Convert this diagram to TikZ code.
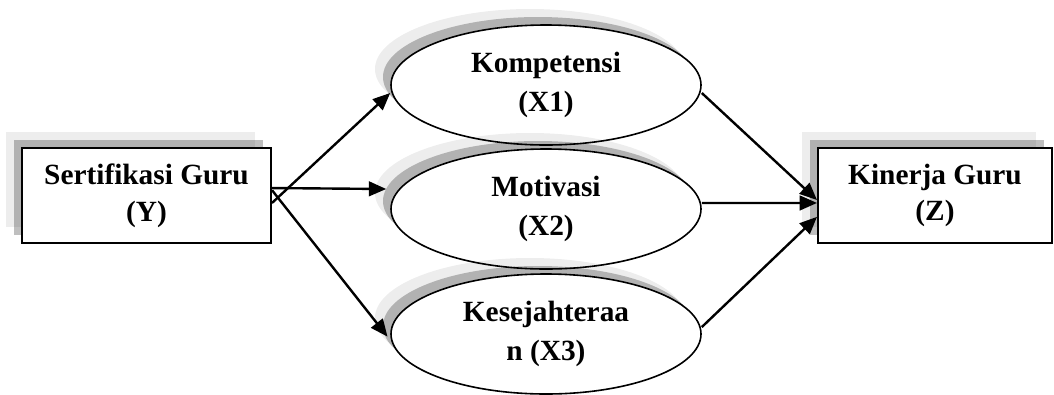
\documentclass[tikz,border=0pt]{standalone}
\usepackage{fontspec}
\setmainfont{Liberation Serif}
\usetikzlibrary{%
  shapes.geometric,
  shadows,
  arrows.meta,
}

\begin{document}
\begin{tikzpicture}[
    x=0.75pt, y=-0.75pt,
    every text node part/.style={align=center},
    every node/.style={font=\bfseries\fontsize{22}{27.5}\selectfont},
    % the grey shadows up and to the left
    greyshadow/.style={
      general shadow={fill=black, fill opacity=0.07,
        shadow xshift=-12pt, shadow yshift=12pt},
      general shadow={fill=black, fill opacity=0.25,
        shadow xshift=-6pt, shadow yshift=6pt},
    },
    rectbox/.style={
      % The shape:
      rectangle,
      % The size:
      minimum width=186.75pt,
      minimum height=71.25pt,
      % The border:
      draw=black, line width=1.5pt,
      fill=white,
      greyshadow,
    },
    oval/.style={
      ellipse,
      inner sep=0pt,
      minimum width=232.5pt,
      minimum height=90pt,
      draw=black, line width=1.2pt,
      fill=white,
      greyshadow,
    },
    link/.style={
      -{Triangle[length=13pt,width=11pt]},
      line width=1.8pt,
    }]

    \useasboundingbox (0,0) rectangle (1054,394);

    \node[rectbox] (sertifikasi) at (146.5,195.5) {Sertifikasi Guru \\ (Y)};
    \node[oval] (kompetensi) at (546,85) {Kompetensi \\[2pt] (X1)};
    \node[oval] (motivasi) at (546,209) {Motivasi \\[2pt] (X2)};
    \node[oval] (kesejahteraan) at (546,334) {Kesejahteraa \\[2pt] n (X3)};
    \node[rectbox, minimum width=175.5pt] (kinerja) at (935,195.5) {Kinerja Guru \\ (Z)};

    \draw[link] ([yshift=-5.6pt]sertifikasi.east) -- ([yshift=-6pt]kompetensi.west);
    \draw[link] ([yshift=5.6pt]sertifikasi.east) -- ([xshift=-3pt,yshift=15pt]motivasi.west);
    \draw[link] ([yshift=4pt]sertifikasi.east) -- ([xshift=-2pt,yshift=-2pt]kesejahteraan.west);

    \draw[link] ([yshift=-6pt]kompetensi.east) -- ([yshift=-3.4pt]kinerja.west);
    \draw[link] ([yshift=4.5pt]motivasi.east) -- ([yshift=-5.6pt]kinerja.west);
    \draw[link] ([yshift=5.2pt]kesejahteraan.east) -- ([yshift=-16pt]kinerja.west);
  \end{tikzpicture}
\end{document}
